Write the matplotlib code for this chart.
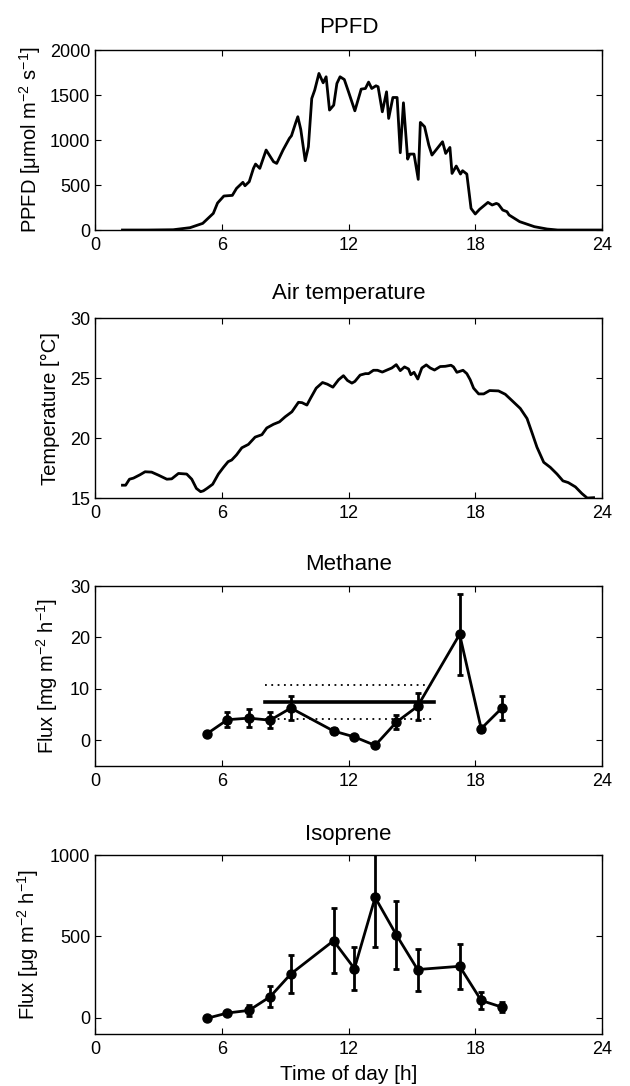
import numpy as np
import matplotlib
matplotlib.use("Agg")
import matplotlib.pyplot as plt

plt.rcParams['font.family'] = ['Liberation Sans', 'DejaVu Sans']
plt.rcParams['mathtext.fontset'] = 'custom'
plt.rcParams['mathtext.rm'] = 'Liberation Sans'
plt.rcParams['mathtext.it'] = 'Liberation Sans'
plt.rcParams['mathtext.default'] = 'regular'

# PPFD (hours, umol m-2 s-1)
ppfd_t = [1.3, 2.5, 3.7, 4.5, 5.1, 5.6, 5.8, 6.1, 6.5, 6.7, 7.0, 7.1, 7.3, 7.5, 7.6, 7.8,
          8.1, 8.45, 8.6, 8.9, 9.2, 9.3, 9.5, 9.6, 9.74, 9.95, 10.1, 10.26, 10.4, 10.6,
          10.8, 10.94, 11.1, 11.3, 11.45, 11.6, 11.8, 12.0, 12.3, 12.6, 12.8, 12.95,
          13.1, 13.3, 13.4, 13.6, 13.8, 13.9, 14.1, 14.3, 14.45, 14.6, 14.8, 14.9, 15.1,
          15.3, 15.4, 15.6, 15.8, 15.95, 16.45, 16.6, 16.8, 16.9, 17.1, 17.3, 17.4, 17.6,
          17.8, 18.0, 18.2, 18.6, 18.8, 19.0, 19.1, 19.3, 19.5, 19.6, 20.1, 20.8, 21.4,
          21.9, 24.0]
ppfd = [0, 0, 3, 26, 74, 185, 300, 378, 385, 463, 530, 492, 537, 685, 733, 685,
        889, 759, 740, 889, 1018, 1048, 1192, 1259, 1118, 770, 925, 1462, 1555, 1740,
        1636, 1703, 1333, 1388, 1629, 1703, 1673, 1536, 1325, 1566, 1573, 1644,
        1573, 1603, 1592, 1314, 1536, 1240, 1473, 1473, 859, 1414, 788, 844, 844,
        563, 1196, 1148, 944, 833, 981, 851, 918, 629, 711, 622, 659, 622,
        240, 178, 229, 307, 278, 296, 285, 222, 204, 167, 93, 37, 11,
        0, 0]

# Air temperature (hours, degC)
temp_t = [1.3, 1.45, 1.63, 1.82, 2.13, 2.37, 2.68, 3.0, 3.4, 3.63, 3.95, 4.34, 4.58, 4.8,
          5.0, 5.13, 5.3, 5.57, 5.84, 6.08, 6.3, 6.47, 6.7, 6.95, 7.26, 7.58, 7.9, 8.13,
          8.45, 8.73, 9.0, 9.32, 9.63, 9.8, 10.03, 10.2, 10.47, 10.77, 11.0, 11.26, 11.53,
          11.76, 11.95, 12.16, 12.3, 12.55, 12.8, 12.95, 13.18, 13.37, 13.6, 13.86, 14.05,
          14.26, 14.45, 14.65, 14.84, 14.95, 15.1, 15.28, 15.47, 15.68, 15.87, 16.07, 16.34,
          16.58, 16.85, 16.97, 17.13, 17.42, 17.6, 17.76, 17.92, 18.16, 18.4, 18.68, 19.1,
          19.42, 19.74, 20.13, 20.45, 20.7, 20.92, 21.24, 21.55, 21.87, 22.15, 22.4, 22.74,
          23.05, 23.3, 23.6]
temp = [16.07, 16.07, 16.57, 16.66, 16.94, 17.19, 17.16, 16.91, 16.57, 16.6, 17.05, 17.0,
        16.57, 15.8, 15.53, 15.6, 15.8, 16.15, 17.0, 17.56, 18.03, 18.17, 18.6, 19.19,
        19.47, 20.08, 20.28, 20.84, 21.15, 21.35, 21.77, 22.19, 22.98, 22.95, 22.75, 23.31,
        24.16, 24.63, 24.49, 24.24, 24.86, 25.2, 24.8, 24.58, 24.72, 25.25, 25.37, 25.37,
        25.65, 25.65, 25.5, 25.7, 25.84, 26.12, 25.62, 25.93, 25.76, 25.28, 25.48, 24.92,
        25.84, 26.1, 25.84, 25.67, 25.96, 25.98, 26.07, 25.93, 25.48, 25.65, 25.37, 24.86,
        24.16, 23.68, 23.68, 23.96, 23.93, 23.65, 23.12, 22.47, 21.63, 20.37, 19.24, 17.98,
        17.56, 17.0, 16.43, 16.29, 15.93, 15.37, 15.0, 15.03]

# Flux sampling times (hours)
flux_t = [5.29, 6.27, 7.29, 8.29, 9.27, 11.29, 12.28, 13.26, 14.26, 15.27, 17.26, 18.28, 19.26]

# Methane (mg m-2 h-1)
ch4 = [1.23, 4.0, 4.3, 3.9, 6.26, 1.8, 0.65, -1.0, 3.5, 6.6, 20.6, 2.26, 6.26]
ch4_err = [0.2, 1.5, 1.7, 1.6, 2.4, 0.5, 0.3, 0.4, 1.4, 2.6, 7.9, 0.6, 2.4]
ch4_mean = 7.42
ch4_sd = 3.36
ch4_span = [8.05, 16.03]

# Isoprene (ug m-2 h-1)
iso = [-4, 29, 45, 129, 269, 473, 302, 739, 510, 296, 316, 106, 65]
iso_err = [5, 15, 34, 66, 116, 200, 133, 304, 210, 129, 138, 51, 31]

fig = plt.figure(figsize=(6.3, 10.86), dpi=100)
L, W = 0.1508, 0.8048
ax1 = fig.add_axes([L, 0.7882, W, 0.1657])
ax2 = fig.add_axes([L, 0.5414, W, 0.1657])
ax3 = fig.add_axes([L, 0.2947, W, 0.1657])
ax4 = fig.add_axes([L, 0.0479, W, 0.1648])

lw = 2.0
tfs = 16     # title size
lfs = 14.5   # axis label size

ax1.plot(ppfd_t, ppfd, color='black', lw=lw)
ax1.set_ylim(0, 2000)
ax1.set_yticks([0, 500, 1000, 1500, 2000])
ax1.set_title("PPFD", fontsize=tfs, pad=12)
ax1.set_ylabel("PPFD [μmol m$^{-2}$ s$^{-1}$]", fontsize=lfs, labelpad=5)

ax2.plot(temp_t, temp, color='black', lw=lw)
ax2.set_ylim(15, 30)
ax2.set_yticks([15, 20, 25, 30])
ax2.set_title("Air temperature", fontsize=tfs, pad=14)
ax2.set_ylabel("Temperature [°C]", fontsize=lfs, labelpad=7)

ax3.errorbar(flux_t, ch4, yerr=ch4_err, color='black', lw=lw, marker='o', ms=6.5,
             elinewidth=lw, capsize=2, capthick=lw)
ax3.plot(ch4_span, [ch4_mean, ch4_mean], color='black', lw=2.6)
ax3.plot(ch4_span, [ch4_mean + ch4_sd] * 2, color='black', lw=1.3, ls=(0, (1, 2.5)))
ax3.plot(ch4_span, [ch4_mean - ch4_sd] * 2, color='black', lw=1.3, ls=(0, (1, 2.5)))
ax3.set_ylim(-5, 30)
ax3.set_yticks([0, 10, 20, 30])
ax3.set_title("Methane", fontsize=tfs, pad=11.5)
ax3.set_ylabel("Flux [mg m$^{-2}$ h$^{-1}$]", fontsize=lfs, labelpad=7)

ax4.errorbar(flux_t, iso, yerr=iso_err, color='black', lw=lw, marker='o', ms=6.5,
             elinewidth=lw, capsize=2, capthick=lw)
ax4.set_ylim(-100, 1000)
ax4.set_yticks([0, 500, 1000])
ax4.set_title("Isoprene", fontsize=tfs, pad=11)
ax4.set_ylabel("Flux [μg m$^{-2}$ h$^{-1}$]", fontsize=lfs, labelpad=6)
ax4.set_xlabel("Time of day [h]", fontsize=15, labelpad=5)

for ax in (ax1, ax2, ax3, ax4):
    ax.set_xlim(0, 24)
    ax.set_xticks([0, 6, 12, 18, 24])
    ax.tick_params(direction='in', top=True, right=True, length=4, width=0.8,
                   labelsize=13)
    ax.tick_params(axis='x', pad=5)
    ax.tick_params(axis='y', pad=3.5)
    for s in ax.spines.values():
        s.set_linewidth(1.0)

fig.savefig("out.png", dpi=100)
